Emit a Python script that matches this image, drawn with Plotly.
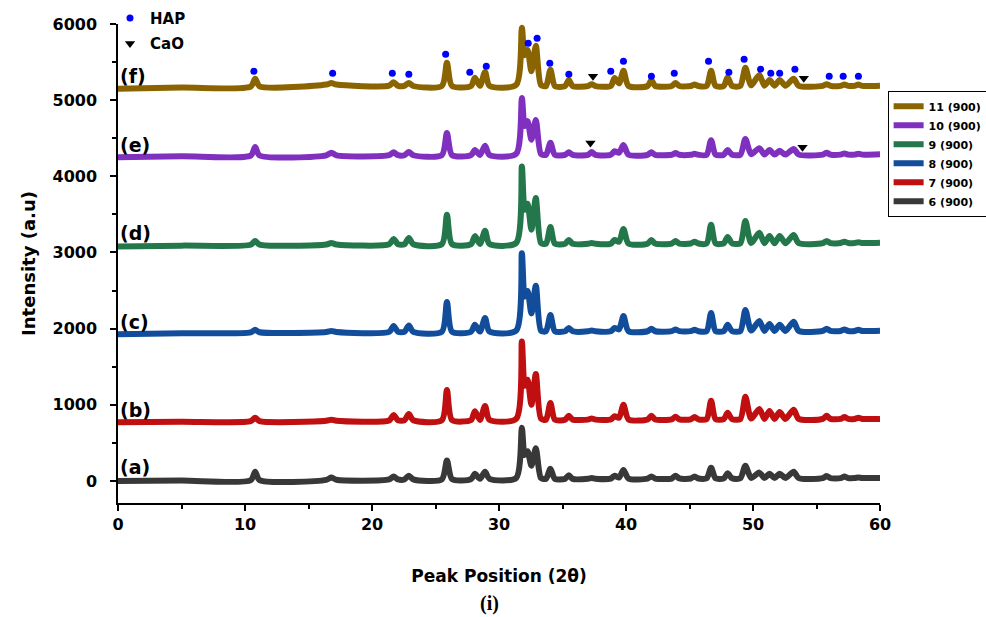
import plotly.graph_objects as go

# Shared 2-theta sample points (degrees)
two_theta = [0, 5, 10.45, 10.8, 11.15, 16.4, 16.8, 17.2, 21.35, 21.7, 22.05, 22.55, 22.9, 23.25,
             25.5, 25.9, 26.3, 27.8, 28.1, 28.5, 28.9, 29.25, 31.35, 31.8, 32.02, 32.25, 32.55, 32.9,
             33.3, 33.7, 34.05, 34.4, 35.2, 35.5, 35.8, 37.0, 37.3, 37.6, 38.8, 39.1, 39.45, 39.8,
             40.2, 41.7, 42.0, 42.3, 43.6, 43.9, 44.2, 45.1, 45.4, 45.7, 46.35, 46.7, 47.05, 47.7,
             48.0, 48.35, 49.0, 49.4, 49.85, 50.5, 50.9, 51.3, 51.7, 52.1, 52.55, 53.2, 53.6, 55.5,
             55.8, 56.1, 56.9, 57.2, 57.5, 58.0, 58.3, 58.6, 60]

int_6 = [0, 5, 10, 120, 12, 15, 45, 16, 20, 60, 20, 20, 70, 22, 22, 270, 24, 25, 95, 28, 120, 28,
         40, 700, 340, 390, 200, 430, 40, 28, 160, 28, 28, 75, 28, 30, 40, 30, 32, 70, 45, 145, 32,
         32, 60, 32, 32, 70, 33, 33, 60, 33, 35, 175, 35, 35, 100, 35, 35, 200, 40, 110, 40, 95, 40,
         95, 40, 120, 38, 38, 65, 38, 38, 58, 38, 38, 45, 40, 40]
int_7 = [772, 778, 785, 830, 786, 790, 805, 790, 795, 865, 796, 797, 878, 797, 798, 1195, 800, 800,
         915, 802, 985, 802, 815, 1830, 1250, 1330, 1000, 1405, 820, 805, 1025, 805, 805, 855, 806,
         806, 820, 806, 808, 850, 830, 1000, 808, 808, 855, 808, 809, 845, 809, 810, 840, 810, 812,
         1055, 812, 812, 895, 812, 813, 1105, 820, 945, 815, 920, 815, 905, 815, 935, 815, 815, 855,
         815, 815, 840, 815, 815, 830, 815, 815]
int_8 = [1928, 1940, 1952, 1985, 1953, 1955, 1970, 1956, 1958, 2035, 1958, 1958, 2040, 1958, 1960,
         2350, 1960, 1960, 2050, 1962, 2140, 1962, 1975, 2990, 2420, 2495, 2200, 2565, 1975, 1965,
         2180, 1965, 1965, 2010, 1965, 1965, 1975, 1965, 1966, 2010, 1990, 2165, 1966, 1966, 1998,
         1966, 1967, 1990, 1967, 1967, 1985, 1967, 1968, 2205, 1968, 1968, 2050, 1968, 1968, 2245,
         1975, 2100, 1970, 2060, 1970, 2050, 1970, 2090, 1970, 1970, 2000, 1970, 1970, 1990, 1970,
         1970, 1985, 1970, 1972]
int_9 = [3078, 3090, 3102, 3150, 3103, 3105, 3125, 3106, 3108, 3178, 3108, 3108, 3190, 3108, 3110,
         3495, 3110, 3110, 3215, 3112, 3285, 3112, 3125, 4130, 3560, 3640, 3300, 3715, 3125, 3115,
         3335, 3115, 3115, 3165, 3115, 3115, 3125, 3115, 3116, 3165, 3140, 3310, 3116, 3116, 3165,
         3117, 3117, 3152, 3117, 3118, 3142, 3118, 3119, 3365, 3119, 3120, 3205, 3120, 3120, 3415,
         3125, 3258, 3122, 3218, 3122, 3218, 3122, 3230, 3123, 3123, 3152, 3123, 3124, 3142, 3124,
         3124, 3135, 3125, 3128]
int_10 = [4252, 4262, 4272, 4385, 4273, 4275, 4310, 4276, 4277, 4315, 4277, 4277, 4320, 4277, 4278,
          4570, 4278, 4278, 4345, 4280, 4400, 4280, 4295, 5030, 4660, 4725, 4480, 4740, 4295, 4282,
          4440, 4282, 4282, 4315, 4282, 4282, 4320, 4282, 4283, 4330, 4310, 4410, 4283, 4283, 4315,
          4283, 4283, 4305, 4283, 4283, 4295, 4283, 4283, 4475, 4284, 4284, 4345, 4284, 4284, 4490,
          4290, 4370, 4285, 4345, 4285, 4335, 4285, 4360, 4285, 4285, 4310, 4285, 4285, 4300, 4285,
          4285, 4295, 4285, 4290]
int_11 = [5150, 5165, 5178, 5280, 5182, 5205, 5225, 5205, 5190, 5235, 5188, 5188, 5225, 5186, 5186,
          5490, 5186, 5186, 5295, 5188, 5370, 5188, 5200, 5950, 5590, 5660, 5380, 5715, 5200, 5185,
          5400, 5185, 5185, 5265, 5185, 5185, 5210, 5185, 5186, 5290, 5220, 5385, 5186, 5186, 5262,
          5186, 5186, 5225, 5186, 5186, 5205, 5186, 5187, 5385, 5187, 5187, 5300, 5187, 5187, 5425,
          5195, 5330, 5190, 5265, 5190, 5265, 5190, 5280, 5188, 5188, 5210, 5188, 5188, 5205, 5188,
          5188, 5205, 5188, 5190]

series_names = ["6 (900)", "7 (900)", "8 (900)", "9 (900)", "10 (900)", "11 (900)"]
series_vals = [int_6, int_7, int_8, int_9, int_10, int_11]
series_colors = ["#383838", "#c00f10", "#114d9b", "#23774a", "#7f30bf", "#8a6400"]
series_tags = ["(a)", "(b)", "(c)", "(d)", "(e)", "(f)"]
tag_y = [184, 932, 2087, 3256, 4411, 5317]

# Phase markers
hap_x = [10.7, 16.9, 21.6, 22.9, 25.8, 27.7, 29.0, 31.8, 32.3, 33.0, 34.0, 35.5, 38.8, 39.8, 42.0,
         43.8, 46.5, 48.1, 49.3, 50.6, 51.4, 52.1, 53.3, 56.0, 57.1, 58.3]
hap_y = [5381, 5354, 5354, 5341, 5604, 5367, 5446, 6050, 5748, 5814, 5486, 5341, 5381, 5512, 5315,
         5354, 5512, 5367, 5538, 5407, 5354, 5354, 5407, 5315, 5315, 5315]
cao_x = [37.4, 54.0, 37.2, 53.9]
cao_y = [5315, 5289, 4436, 4383]

FONT = "DejaVu Sans"

fig = go.Figure()
for name, vals, col in zip(series_names, series_vals, series_colors):
    fig.add_trace(go.Scatter(x=two_theta, y=vals, mode="lines", name=name,
                             line=dict(color=col, width=6, shape="spline", smoothing=0.7),
                             legend="legend"))

fig.add_trace(go.Scatter(x=hap_x, y=hap_y, mode="markers", name="HAP", legend="legend2",
                         legendgroup="hap", cliponaxis=False,
                         marker=dict(symbol="circle", size=7, color="#0000ff")))
fig.add_trace(go.Scatter(x=cao_x, y=cao_y, mode="markers", name="CaO", legend="legend2",
                         legendgroup="cao", cliponaxis=False,
                         marker=dict(symbol="triangle-down", size=9, color="#000000")))

for tag, ty in zip(series_tags, tag_y):
    fig.add_annotation(x=0, y=ty, xref="x", yref="y", text=tag, showarrow=False,
                       xanchor="left", yanchor="middle",
                       font=dict(family=FONT, size=19, color="#000000", weight="bold"))

fig.add_annotation(x=0.488, y=-0.21, xref="paper", yref="paper", text="<b>(i)</b>",
                   showarrow=False, xanchor="center", yanchor="middle",
                   font=dict(family="Liberation Serif", size=20, color="#000000"))

fig.update_layout(
    width=986, height=617,
    margin=dict(l=118, r=106, t=24, b=114, autoexpand=False),
    paper_bgcolor="white", plot_bgcolor="white",
    font=dict(family=FONT, color="#000000"),
    legend=dict(x=1.010, y=0.729, xanchor="left", yanchor="middle",
                traceorder="reversed", bordercolor="#000000", borderwidth=1,
                bgcolor="white", itemwidth=30,
                font=dict(family=FONT, size=11, weight="bold")),
    legend2=dict(x=-0.0105, y=1.0465, xanchor="left", yanchor="top",
                 bgcolor="rgba(0,0,0,0)", borderwidth=0, tracegroupgap=3,
                 font=dict(family=FONT, size=15, weight="bold")),
    xaxis=dict(range=[0, 60], showline=True, linecolor="#000000", linewidth=1.5,
               showgrid=False, zeroline=False, ticks="outside", ticklen=6, tickwidth=1.5,
               tickcolor="#000000", dtick=10, tick0=0,
               minor=dict(dtick=5, ticks="outside", ticklen=4, tickwidth=1.5, tickcolor="#000000"),
               tickfont=dict(family=FONT, size=16, weight="bold"),
               title=dict(text="Peak Position (2θ)", standoff=37,
                          font=dict(family=FONT, size=17, weight="bold"))),
    yaxis=dict(range=[-289, 6000], showline=True, linecolor="#000000", linewidth=1.5,
               showgrid=False, zeroline=False, ticks="outside", ticklen=6, tickwidth=1.5,
               tickcolor="#000000", tickmode="array",
               tickvals=[0, 1000, 2000, 3000, 4000, 5000, 6000],
               minor=dict(tickmode="array", tickvals=[500, 1500, 2500, 3500, 4500, 5500],
                          ticks="outside", ticklen=4, tickwidth=1.5, tickcolor="#000000"),
               ticklabelstandoff=10,
               tickfont=dict(family=FONT, size=16, weight="bold"),
               title=dict(text="Intensity (a.u)", standoff=12,
                          font=dict(family=FONT, size=18, weight="bold"))),
)

fig.write_html("out.html")
